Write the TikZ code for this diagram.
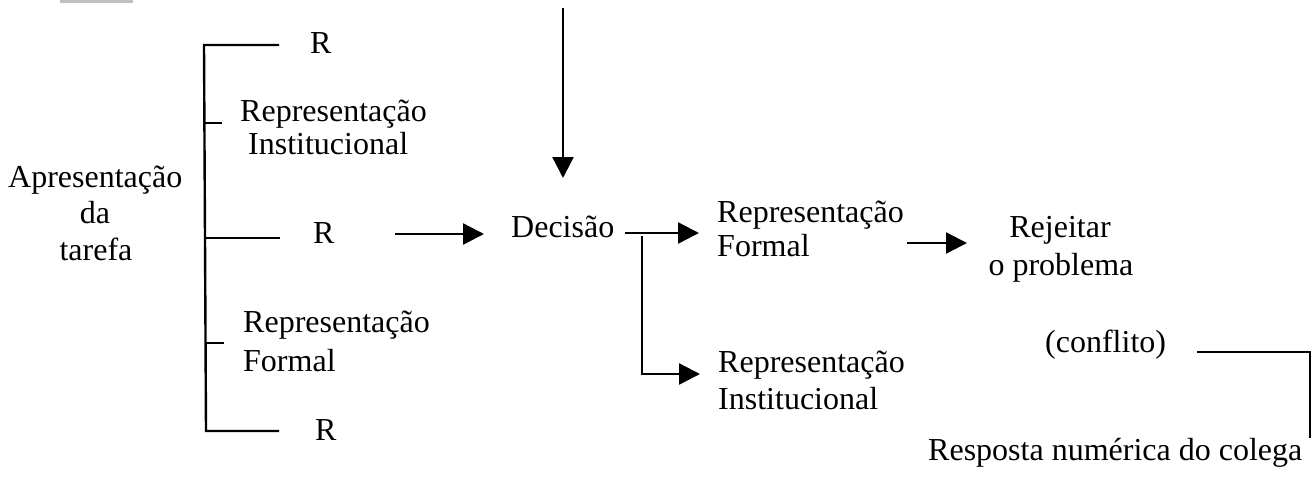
\documentclass[tikz,border=0pt]{standalone}
\usepackage{fontspec}
\setmainfont{Liberation Serif}
\usetikzlibrary{arrows.meta}
\begin{document}
\begin{tikzpicture}[x=1pt,y=-1pt,
  txt/.style={inner sep=0pt,anchor=base west,font=\fontsize{32pt}{37pt}\selectfont},
  txtc/.style={txt,anchor=base},
  ln/.style={line width=2.4pt},
  thin/.style={line width=1.6pt},
  arr/.style={line width=2.4pt,-{Triangle[length=21pt,width=21pt]}}]
\useasboundingbox (0,0) rectangle (1311,477);
\fill[black!25] (60,0) rectangle (133,2.5);
% left label
\node[txt] (ap1) at (8,187) {Apresentação};
\node[txtc] (ap2) at (95,223) {da};
\node[txtc] (ap3) at (96,260) {tarefa};
% bracket
\coordinate (bt) at (204,45);
\coordinate (bb) at (206,431);
\coordinate (h1) at (278,45);
\coordinate (m0) at (205,238);
\coordinate (h2) at (280,238);
\coordinate (h3) at (278,431);
\coordinate (t1a) at (205,123);
\coordinate (t1b) at (222,123);
\coordinate (t2a) at (206,343);
\coordinate (t2b) at (224,343);
\draw[ln,line cap=rect] (h1) -- (bt) -- (bb) -- (h3);
\draw[ln] (m0) -- (h2);
\draw[ln] (t1a) -- (t1b);
\draw[ln] (t2a) -- (t2b);
% options
\node[txt] (r1) at (310,53) {R};
\node[txt] (ri1) at (240,121) {Representação};
\node[txt] (ri2) at (248,154) {Institucional};
\node[txt] (r2) at (313,243) {R};
\node[txt] (rf1) at (243,332) {Representação};
\node[txt] (rf2) at (243,371) {Formal};
\node[txt] (r3) at (315,440) {R};
% decision
\node[txt] (dec) at (511,237) {Decisão};
\node[txt] (f1) at (717,222) {Representação};
\node[txt] (f2) at (717,256) {Formal};
\node[txt] (i1) at (718,372) {Representação};
\node[txt] (i2) at (718,409) {Institucional};
\node[txtc] (rej1) at (1060,237) {Rejeitar};
\node[txtc] (rej2) at (1061,275) {o problema};
\node[txt] (conf) at (1045,352) {(conflito)};
\node[txt] (resp) at (928,460) {Resposta numérica do colega};
% arrows
\coordinate (va) at (563,8);
\coordinate (vb) at (563,178);
\draw[arr] (va) -- (vb);
\coordinate (a1s) at (395,234);
\coordinate (a1e) at (484,234);
\draw[arr] (a1s) -- (a1e);
\coordinate (a2s) at (625,233);
\coordinate (a2e) at (699,233);
\draw[arr] (a2s) -- (a2e);
\coordinate (a3s) at (642,236);
\coordinate (a3e) at (700,374);
\draw[arr] (a3s) |- (a3e);
\coordinate (a4s) at (907,243);
\coordinate (a4e) at (967,243);
\draw[arr] (a4s) -- (a4e);
% conflict line
\coordinate (c1) at (1197,352);
\coordinate (c2) at (1310,352);
\coordinate (c3) at (1310,438);
\draw[thin] (c1) -- (c2) -- (c3);
\end{tikzpicture}
\end{document}
